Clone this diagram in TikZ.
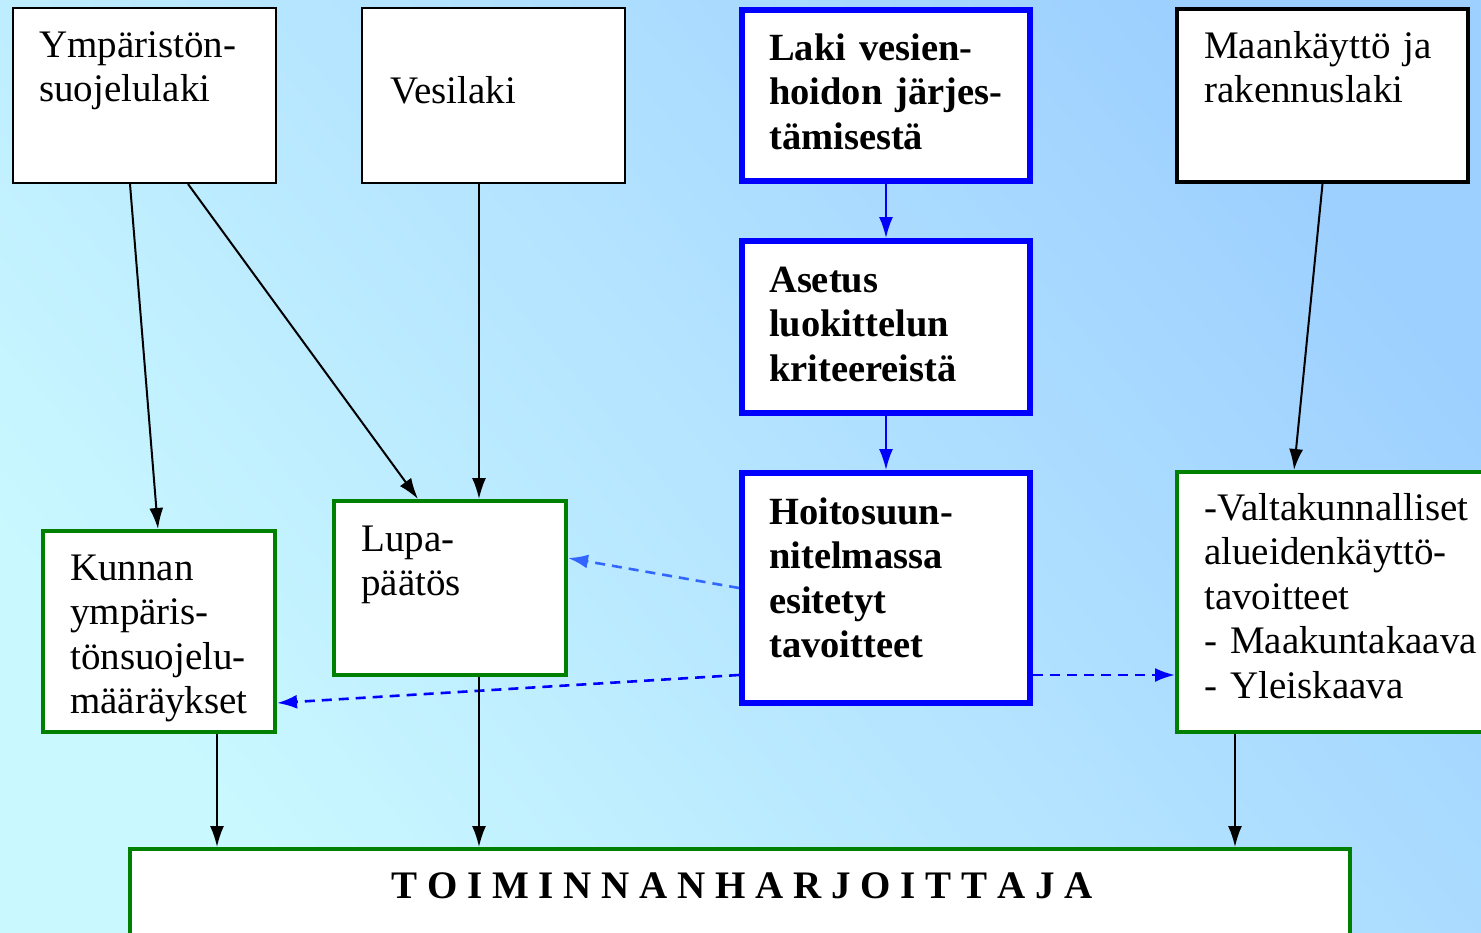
\documentclass[tikz,border=0pt]{standalone}
\usepackage{fontspec}
\setmainfont{Liberation Serif}
\usetikzlibrary{arrows.meta}

\definecolor{bgblue}{RGB}{158,208,255}
\definecolor{bgcyan}{RGB}{202,248,255}
\definecolor{lawblue}{RGB}{0,0,255}
\definecolor{hintblue}{RGB}{51,102,255}
\definecolor{normgreen}{RGB}{0,128,0}

\begin{document}
\begin{tikzpicture}[x=1pt,y=-1pt,
  box/.style={draw,fill=white,inner sep=0pt},
  actbox/.style={box,line width=2pt},
  mrlbox/.style={box,line width=4pt},
  wfdbox/.style={box,draw=lawblue,line width=6pt},
  normbox/.style={box,draw=normgreen,line width=4pt},
  txt/.style={anchor=base west,inner sep=0pt,text width=330pt,align=left,
    font=\fontsize{39}{44.5}\selectfont},
  boldtxt/.style={txt,font=\fontsize{38.5}{44.5}\selectfont\bfseries},
  link/.style={line width=2pt,-{Latex[length=21pt,width=14pt]}},
  wfdlink/.style={link,lawblue},
  plan/.style={lawblue,line width=2.6pt,dash pattern=on 10pt off 7pt,
    -{Latex[length=20pt,width=14pt]}}
]
  \clip (0,0) rectangle (1481,932);
  \shade[top color=bgblue,bottom color=bgcyan,shading angle=-50] (0,0) rectangle (1481,932);

  % laws
  \node[actbox,minimum width=263,minimum height=175] (ysl) at (144.5,95.5) {};
  \node[actbox,minimum width=263,minimum height=175] (vl) at (493.5,95.5) {};
  \node[wfdbox,minimum width=288,minimum height=171] (laki) at (886,95.5) {};
  \node[mrlbox,minimum width=291,minimum height=173] (mrl) at (1322.5,95.5) {};
  \node[wfdbox,minimum width=288,minimum height=172] (asetus) at (886,327) {};
  \node[wfdbox,minimum width=288,minimum height=230] (hoito) at (886,588) {};

  % decisions and plans
  \node[normbox,minimum width=232,minimum height=201] (kunnan) at (159,631.5) {};
  \node[normbox,minimum width=232,minimum height=174] (lupa) at (450,588) {};
  \node[normbox,minimum width=318,minimum height=260] (valta) at (1336,602) {};
  \node[normbox,minimum width=1220,minimum height=111] (toim) at (740,904.5) {};

  \node[txt] (yslt) at (39,57) {Ympäristön-\\suojelulaki};
  \node[txt] (vlt) at (390,103) {Vesilaki};
  \node[boldtxt] (lakit) at (769,60) {Laki vesien-\\hoidon järjes-\\tämisestä};
  \node[txt] (mrlt) at (1204,58) {Maankäyttö ja\\rakennuslaki};
  \node[boldtxt] (asetust) at (769,292) {Asetus\\luokittelun\\kriteereistä};
  \node[boldtxt] (hoitot) at (769,524) {Hoitosuun-\\nitelmassa\\esitetyt\\tavoitteet};
  \node[txt] (kunnant) at (70,580) {Kunnan\\ympäris-\\tönsuojelu-\\määräykset};
  \node[txt] (lupat) at (361,551) {Lupa-\\päätös};
  \node[txt] (valtat) at (1204,520) {-Valtakunnalliset\\alueidenkäyttö-\\tavoitteet\\- Maakuntakaava\\- Yleiskaava};
  \node[font=\fontsize{39}{44}\selectfont\bfseries,anchor=base,inner sep=0pt] (toimt) at (742,898)
    {T O I M I N N A N H A R J O I T T A J A};

  \draw[link] ([xshift=-14.5]ysl.south) -- ([xshift=-1]kunnan.north);
  \draw[link] ([xshift=43.5]ysl.south) -- ([xshift=-32]lupa.north);
  \draw[link] ([xshift=-14.5]vl.south) -- ([xshift=29]lupa.north);
  \draw[link] (mrl.south) -- ([xshift=-42]valta.north);
  \draw[wfdlink] (laki.south) -- (asetus.north);
  \draw[wfdlink] (asetus.south) -- (hoito.north);

  \draw[plan,hintblue] (hoito.west) -- ([yshift=30]lupa.east);
  \draw[plan] ([yshift=-87]hoito.west) -- ([yshift=-71.5]kunnan.east);
  \draw[plan] ([yshift=-87]hoito.east) -- ([yshift=-73]valta.west);

  \draw[link] ([xshift=58]kunnan.south) -- ([xshift=58]kunnan.south |- toim.north);
  \draw[link] ([xshift=29]lupa.south) -- ([xshift=29]lupa.south |- toim.north);
  \draw[link] ([xshift=-101]valta.south) -- ([xshift=-101]valta.south |- toim.north);
\end{tikzpicture}
\end{document}
